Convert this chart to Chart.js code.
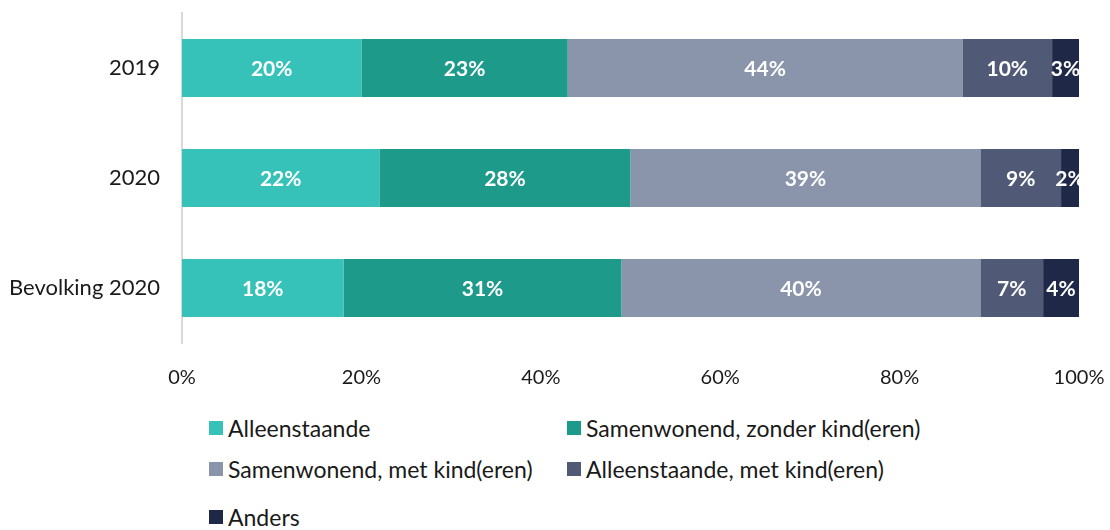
<!DOCTYPE html>
<html>
<head>
<meta charset="utf-8">
<script src="https://cdn.jsdelivr.net/npm/chart.js@4/dist/chart.umd.min.js"></script>
<style>
html,body{margin:0;padding:0;background:#fff;}
#wrap{position:relative;width:1110px;height:530px;overflow:hidden;font-family:Lato,"Open Sans",sans-serif;}
#cv{position:absolute;left:0;top:0;}
.lg{position:absolute;font-size:23px;color:#1a1a1a;white-space:nowrap;line-height:24px;height:24px;}
.lg span.sw{position:absolute;left:0;top:5px;width:14px;height:14px;}
.lg span.tx{position:absolute;left:19px;top:0;}
</style>
</head>
<body>
<div id="wrap">
<canvas id="cv" width="1110" height="400"></canvas>
<div id="legend"></div>
</div>
<script>
const categories = ["2019", "2020", "Bevolking 2020"];
const seriesNames = ["Alleenstaande", "Samenwonend, zonder kind(eren)", "Samenwonend, met kind(eren)", "Alleenstaande, met kind(eren)", "Anders"];
const alleenstaande = [20, 22, 18];
const samenZonder = [23, 28, 31];
const samenMet = [44, 39, 40];
const alleenMet = [10, 9, 7];
const anders = [3, 2, 4];
const xTicks = [0, 20, 40, 60, 80, 100];
const colors = ["#36C2B8", "#1E9A8A", "#8A94AB", "#505A76", "#1F2847"];

const seriesValues = [alleenstaande, samenZonder, samenMet, alleenMet, anders];

const labelPlugin = {
  id: 'segLabels',
  afterDatasetsDraw(chart) {
    const ctx = chart.ctx;
    ctx.save();
    ctx.fillStyle = '#ffffff';
    ctx.font = 'bold 21px Lato, "Open Sans", sans-serif';
    ctx.textAlign = 'center';
    ctx.textBaseline = 'middle';
    chart.data.datasets.forEach((ds, i) => {
      const meta = chart.getDatasetMeta(i);
      meta.data.forEach((bar, j) => {
        const v = ds.data[j];
        const cx = (bar.x + bar.base) / 2;
        ctx.fillText(v + '%', cx, bar.y + 1);
      });
    });
    ctx.restore();
  }
};

const chart = new Chart(document.getElementById('cv'), {
  type: 'bar',
  data: {
    labels: categories,
    datasets: seriesValues.map((vals, i) => ({
      label: seriesNames[i],
      data: vals,
      backgroundColor: colors[i],
      borderWidth: 0,
      categoryPercentage: 1,
      barPercentage: 0.527
    }))
  },
  options: {
    indexAxis: 'y',
    responsive: false,
    animation: false,
    layout: { padding: { top: 13, right: 31, left: 0, bottom: 0 } },
    plugins: { legend: { display: false }, tooltip: { enabled: false } },
    scales: {
      x: {
        stacked: true,
        min: 0, max: 100,
        afterBuildTicks(scale) { scale.ticks = xTicks.map(v => ({ value: v })); },
        afterFit(scale) { scale.height = 57; scale.paddingLeft = 0; scale.paddingRight = 0; },
        grid: { display: false, drawTicks: false },
        border: { display: false },
        ticks: {
          padding: 23,
          color: '#1a1a1a',
          font: { family: 'Lato, "Open Sans", sans-serif', size: 20 },
          maxRotation: 0,
          callback: v => v + '%'
        }
      },
      y: {
        stacked: true,
        afterFit(scale) { scale.width = 182; scale.paddingTop = 0; scale.paddingBottom = 0; },
        grid: { display: false, drawTicks: false },
        border: { display: true, color: '#D9D9D9', width: 2 },
        ticks: {
          padding: 22,
          color: '#1a1a1a',
          font: { family: 'Lato, "Open Sans", sans-serif', size: 22 }
        }
      }
    }
  },
  plugins: [labelPlugin]
});

// HTML legend
const legendPos = [[209, 416], [567, 416], [209, 457], [567, 457], [209, 505]];
const lg = document.getElementById('legend');
seriesNames.forEach((n, i) => {
  const d = document.createElement('div');
  d.className = 'lg';
  d.style.left = legendPos[i][0] + 'px';
  d.style.top = legendPos[i][1] + 'px';
  d.innerHTML = '<span class="sw" style="background:' + colors[i] + '"></span><span class="tx"></span>';
  d.querySelector('.tx').textContent = n;
  lg.appendChild(d);
});
</script>
</body>
</html>
